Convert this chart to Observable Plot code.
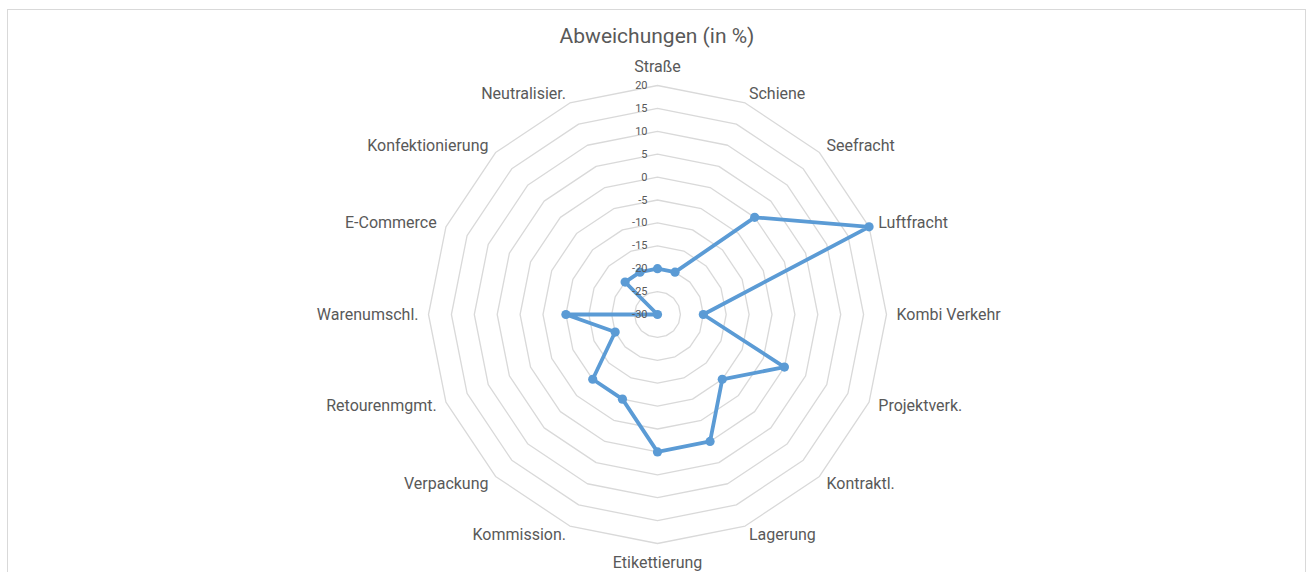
<!DOCTYPE html>
<html><head><meta charset="utf-8">
<script src="https://cdn.jsdelivr.net/npm/d3@7"></script>
<script src="https://cdn.jsdelivr.net/npm/@observablehq/plot@0.6"></script>
<style>
body{margin:0;background:#fff;font-family:Roboto,"Noto Sans",sans-serif;}
#wrap{position:relative;width:1309px;height:572px;overflow:hidden;background:#fff;}
#frame{position:absolute;left:7px;top:9px;width:1299px;height:620px;border:1.5px solid #d9d9d9;box-sizing:border-box;}
#title{position:absolute;left:0;width:1314px;top:23px;text-align:center;font-size:21px;line-height:27px;color:#595959;}
#chart{position:absolute;left:0;top:0;}
</style></head>
<body><div id="wrap"><div id="frame"></div><div id="title">Abweichungen (in %)</div><div id="chart"></div></div>
<script>
const categories = ["Straße","Schiene","Seefracht","Luftfracht","Kombi Verkehr","Projektverk.","Kontraktl.","Lagerung","Etikettierung","Kommission.","Verpackung","Retourenmgmt.","Warenumschl.","E-Commerce","Konfektionierung","Neutralisier."];
const values = [-20,-20,0,20,-20,0,-10,0,0,-10,-10,-20,-10,-30,-20,-20];
const tickValues = [-30,-25,-20,-15,-10,-5,0,5,10,15,20];

const W = 1309, H = 572;
const cx = 657, cy = 314, R = 229;
const n = categories.length;
const rScale = d3.scaleLinear().domain([d3.min(tickValues), d3.max(tickValues)]).range([0, 1]);
const ang = i => i * 2 * Math.PI / n;

const rings = [];
for (const v of tickValues.filter(t => t > d3.min(tickValues))) {
  for (let i = 0; i <= n; i++) {
    const r = rScale(v);
    rings.push({v, x: r * Math.sin(ang(i % n)), y: r * Math.cos(ang(i % n))});
  }
}
const pts = categories.map((c, i) => {
  const r = rScale(values[i]);
  return {c, v: values[i], x: r * Math.sin(ang(i)), y: r * Math.cos(ang(i))};
});
const labR = (R + 10) / R;
const labels = categories.map((c, i) => ({c, i, x: labR * Math.sin(ang(i)), y: labR * Math.cos(ang(i))}));
const tickData = tickValues.map(v => ({v, x: 0, y: rScale(v)}));

const font = "Roboto, 'Noto Sans', sans-serif";
const chart = Plot.plot({
  width: W, height: H,
  marginLeft: cx - R, marginRight: W - (cx + R),
  marginTop: cy - R, marginBottom: H - (cy + R),
  x: {domain: [-1, 1], axis: null},
  y: {domain: [-1, 1], axis: null},
  style: {fontFamily: font, background: "transparent", overflow: "visible"},
  marks: [
    Plot.line(rings, {x: "x", y: "y", z: "v", stroke: "#d9d9d9", strokeWidth: 1.3}),
    Plot.line(pts, {x: "x", y: "y", curve: "linear-closed", stroke: "#5b9bd5", strokeWidth: 3.8, strokeLinejoin: "round"}),
    Plot.dot(pts, {x: "x", y: "y", r: 4.6, fill: "#5b9bd5", stroke: "none"}),
    Plot.text(tickData, {x: "x", y: "y", text: d => String(d.v), textAnchor: "end", dx: -10, fontSize: 11, fill: "#595959"}),
    Plot.text(labels.filter(d => d.i > 0 && d.i < n / 2), {x: "x", y: "y", text: "c", textAnchor: "start", lineAnchor: "middle", fontSize: 16, fill: "#595959"}),
    Plot.text(labels.filter(d => d.i > n / 2), {x: "x", y: "y", text: "c", textAnchor: "end", lineAnchor: "middle", fontSize: 16, fill: "#595959"}),
    Plot.text(labels.filter(d => d.i === 0), {x: "x", y: "y", text: "c", textAnchor: "middle", lineAnchor: "bottom", dy: -4, fontSize: 16, fill: "#595959"}),
    Plot.text(labels.filter(d => d.i === n / 2), {x: "x", y: "y", text: "c", textAnchor: "middle", lineAnchor: "top", dy: 3, fontSize: 16, fill: "#595959"})
  ]
});
document.getElementById("chart").appendChild(chart);
</script>
</body></html>
